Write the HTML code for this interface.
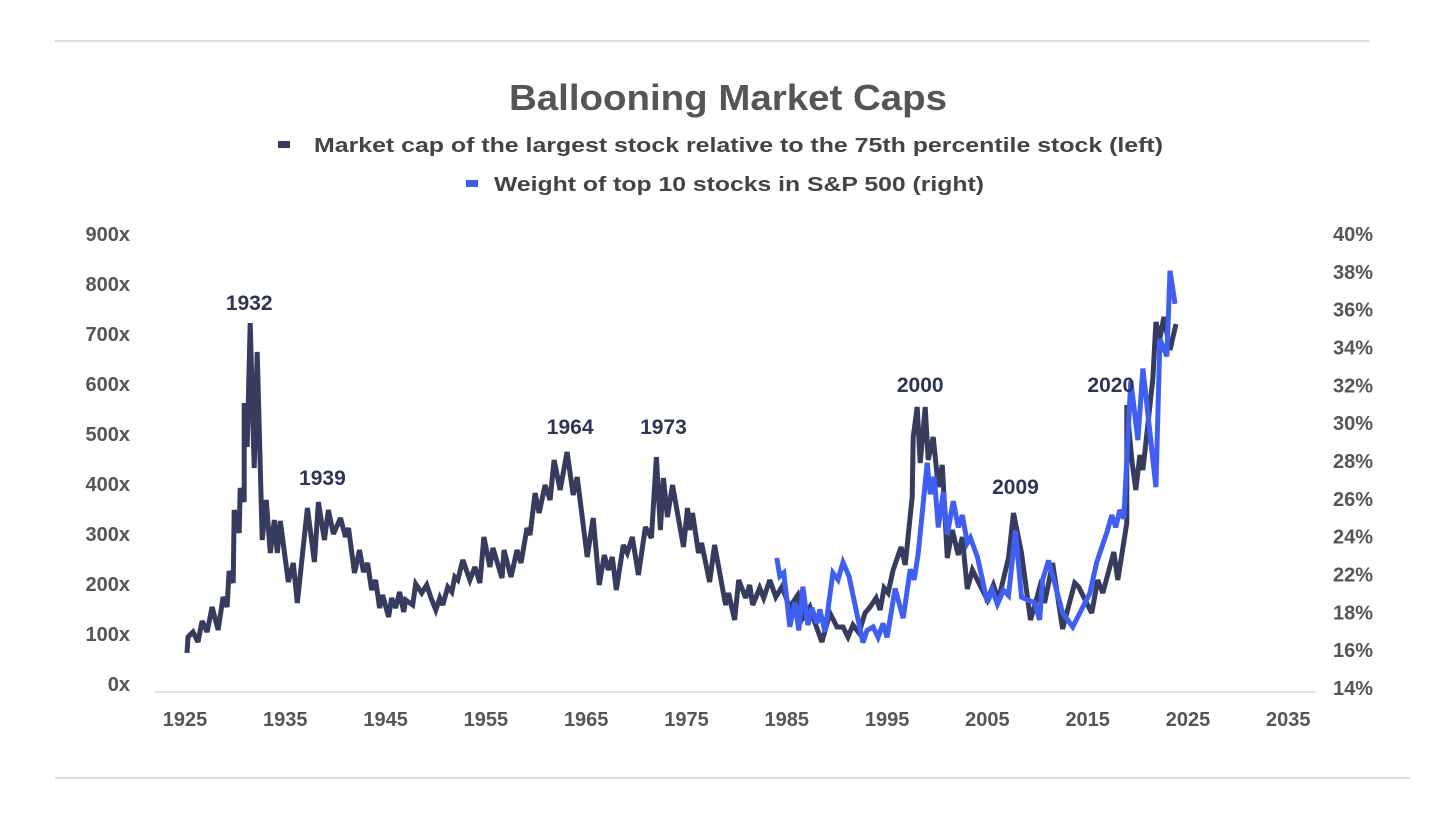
<!DOCTYPE html>
<html><head><meta charset="utf-8"><style>
html,body{margin:0;padding:0;background:#fff;}
svg{display:block;font-family:"Liberation Sans",sans-serif;}
</style></head><body>
<svg id="chart" width="1456" height="819" viewBox="0 0 1456 819" xmlns="http://www.w3.org/2000/svg">
<rect width="1456" height="819" fill="#fff"/>
<line x1="55" y1="41" x2="1370" y2="41" stroke="#d0d0d0" stroke-width="1.5"/>
<line x1="55" y1="778" x2="1410" y2="778" stroke="#d0d0d0" stroke-width="1.5"/>
<text x="728" y="110" text-anchor="middle" font-size="36" font-weight="bold" fill="#555" textLength="438" lengthAdjust="spacingAndGlyphs">Ballooning Market Caps</text>
<g>
<rect x="278" y="141" width="12" height="7" fill="#363c5e"/>
<text x="314" y="152" font-size="20" font-weight="bold" fill="#444" textLength="849" lengthAdjust="spacingAndGlyphs">Market cap of the largest stock relative to the 75th percentile stock (left)</text>
<rect x="466" y="180" width="12" height="7" fill="#3f5ff2"/>
<text x="494" y="191" font-size="20" font-weight="bold" fill="#444" textLength="490" lengthAdjust="spacingAndGlyphs">Weight of top 10 stocks in S&amp;P 500 (right)</text>
</g>
<line x1="155" y1="692" x2="1316" y2="692" stroke="#d8d8d8" stroke-width="1.5"/>
<g id="axes"></g>
<g id="series"></g>
<g id="annots"></g>
</svg>
<script>
const darkYears=[1925.4,1925.5,1926.0,1926.5,1926.9,1927.4,1927.9,1928.5,1929.0,1929.4,1929.6,1930.0,1930.1,1930.6,1930.7,1931.1,1931.1,1931.4,1931.7,1932.1,1932.4,1932.9,1933.3,1933.7,1934.1,1934.4,1934.7,1935.5,1936.0,1936.4,1937.4,1938.1,1938.5,1939.1,1939.5,1940.0,1940.7,1941.2,1941.5,1942.1,1942.6,1943.0,1943.4,1943.8,1944.2,1944.6,1944.9,1945.5,1945.8,1946.2,1946.6,1947.0,1947.2,1947.9,1948.2,1948.8,1949.3,1949.7,1950.2,1950.6,1950.9,1951.4,1951.8,1952.1,1952.4,1952.9,1953.6,1954.1,1954.6,1955.0,1955.6,1955.9,1956.8,1957.0,1957.7,1958.3,1958.7,1959.3,1959.6,1960.1,1960.5,1961.1,1961.6,1962.0,1962.6,1963.3,1963.9,1964.3,1965.3,1965.9,1966.5,1967.0,1967.4,1967.8,1968.2,1968.9,1969.3,1969.8,1970.4,1971.1,1971.7,1972.2,1972.6,1972.9,1973.3,1973.8,1974.9,1975.3,1975.5,1975.8,1976.4,1976.7,1977.5,1978.0,1979.1,1979.4,1980.0,1980.4,1981.1,1981.5,1981.8,1982.5,1982.9,1983.5,1984.1,1984.7,1985.5,1986.3,1986.8,1987.5,1987.8,1988.7,1989.5,1990.2,1990.8,1991.3,1991.8,1992.4,1993.0,1993.5,1994.1,1994.5,1994.9,1995.3,1995.8,1996.6,1997.0,1997.7,1997.8,1998.2,1998.5,1999.0,1999.3,1999.8,2000.3,2000.7,2001.2,2001.7,2002.3,2002.7,2003.2,2003.7,2004.2,2005.2,2005.8,2006.3,2007.3,2007.8,2008.6,2009.5,2010.0,2010.6,2010.9,2011.7,2012.7,2013.9,2014.3,2015.6,2016.2,2016.7,2017.8,2018.2,2019.1,2019.1,2019.6,2020.0,2020.4,2020.7,2021.7,2022.0,2022.4,2022.8,2023.4,2024.0];
const darkValues=[62,94,104,84,126,104,154,108,174,154,226,202,348,302,392,364,562,474,722,432,664,288,368,262,328,262,326,204,242,162,352,244,364,288,348,300,332,294,312,222,268,224,242,188,208,152,178,134,172,152,184,144,168,158,200,182,198,174,148,172,158,194,184,214,208,248,208,234,202,294,234,272,212,268,214,268,242,312,298,382,342,398,368,448,388,464,378,414,254,332,198,258,228,254,188,278,262,294,218,314,292,454,308,412,334,398,274,352,308,342,262,282,204,278,158,182,128,208,172,198,158,192,172,208,174,194,154,178,132,154,134,84,142,114,114,94,118,102,142,154,172,148,192,182,228,274,238,374,494,554,442,554,448,494,394,438,252,308,258,294,190,228,208,168,198,168,252,342,262,128,162,208,162,242,110,202,194,142,208,182,264,208,322,558,448,388,458,428,612,724,692,734,668,720];
const blueYears=[1984.2,1984.5,1984.9,1985.5,1986.0,1986.4,1986.8,1987.3,1987.7,1988.2,1988.5,1989.0,1989.8,1990.3,1990.8,1991.4,1992.8,1993.2,1993.8,1994.3,1994.8,1995.2,1996.0,1996.8,1997.5,1997.9,1998.3,1999.2,1999.5,1999.9,2000.3,2000.8,2001.2,2001.8,2002.3,2002.7,2003.2,2003.5,2004.2,2005.2,2005.7,2006.2,2006.8,2007.3,2008.0,2008.6,2009.4,2009.9,2010.4,2010.7,2011.3,2012.7,2013.7,2015.4,2016.1,2017.1,2017.6,2018.0,2018.4,2018.8,2019.5,2020.2,2020.7,2022.0,2022.4,2023.1,2023.4,2023.9];
const blueValues=[21.45,20.4,20.6,17.5,18.9,17.3,19.8,17.6,18.6,17.7,18.5,17.2,20.6,20.2,21.2,20.4,16.6,17.3,17.5,16.9,17.7,16.9,19.7,18.0,20.8,20.2,21.7,26.9,25.1,26.1,23.2,25.2,22.8,24.7,23.2,23.9,22.3,22.6,21.5,18.9,19.6,18.8,19.6,19.3,23.0,19.2,19.0,18.9,17.9,20.2,21.3,18.3,17.5,19.4,21.2,22.9,23.9,23.2,24.2,23.7,31.6,28.2,32.3,25.5,34.0,33.0,37.9,36.0];
const xTicks=[1925,1935,1945,1955,1965,1975,1985,1995,2005,2015,2025,2035];
const leftTicks=[0,100,200,300,400,500,600,700,800,900];
const rightTickLabels=["14%","16%","18%","22%","24%","26%","28%","30%","32%","34%","36%","38%","40%"];
const annotLabels=["1932","1939","1964","1973","2000","2009","2020"];
const annotYears=[1931.6,1938.9,1963.6,1972.9,1998.5,2008.0,2017.5];
const annotValues=[748,398,500,500,584,380,584];

const NS="http://www.w3.org/2000/svg";
const xs=y=>183+(y-1925)*10.03;
const yl=v=>684-v*0.5;
const yr=v=>688-(v-14)*17.46;
function mk(tag,attrs,parent,text){const e=document.createElementNS(NS,tag);for(const k in attrs)e.setAttribute(k,attrs[k]);if(text!==undefined)e.textContent=text;parent.appendChild(e);return e;}
const axes=document.getElementById('axes');
xTicks.forEach(t=>{
  const e=mk('text',{x:xs(t)+2,y:726,'text-anchor':'middle','font-size':20,'font-weight':'bold',fill:'#555'},axes,String(t));
  
  
});
leftTicks.forEach(t=>{
  const e=mk('text',{x:130,y:yl(t)+7,'text-anchor':'end','font-size':20,'font-weight':'bold',fill:'#555'},axes,t+'x');
  
  
});
const nR=rightTickLabels.length;
rightTickLabels.forEach((lab,i)=>{
  const e=mk('text',{x:1333,y:688-i*(454/(nR-1))+7,'font-size':20,'font-weight':'bold',fill:'#555'},axes,lab);
  
  
});
const series=document.getElementById('series');
const dp=darkYears.map((y,i)=>xs(y).toFixed(1)+','+yl(darkValues[i]).toFixed(1)).join(' ');
const dl=mk('polyline',{points:dp,fill:'none',stroke:'#363c5e','stroke-width':5,'stroke-linejoin':'miter','stroke-miterlimit':3},series);


const bp=blueYears.map((y,i)=>xs(y).toFixed(1)+','+yr(blueValues[i]).toFixed(1)).join(' ');
const bl=mk('polyline',{points:bp,fill:'none',stroke:'#3f5ff2','stroke-width':5,'stroke-linejoin':'miter','stroke-miterlimit':3},series);


const an=document.getElementById('annots');
annotLabels.forEach((l,i)=>{
  const e=mk('text',{x:xs(annotYears[i]),y:yl(annotValues[i]),'text-anchor':'middle','font-size':21,'font-weight':'bold',fill:'#2d3455'},an,l);
  
  
});
</script>
</body></html>
